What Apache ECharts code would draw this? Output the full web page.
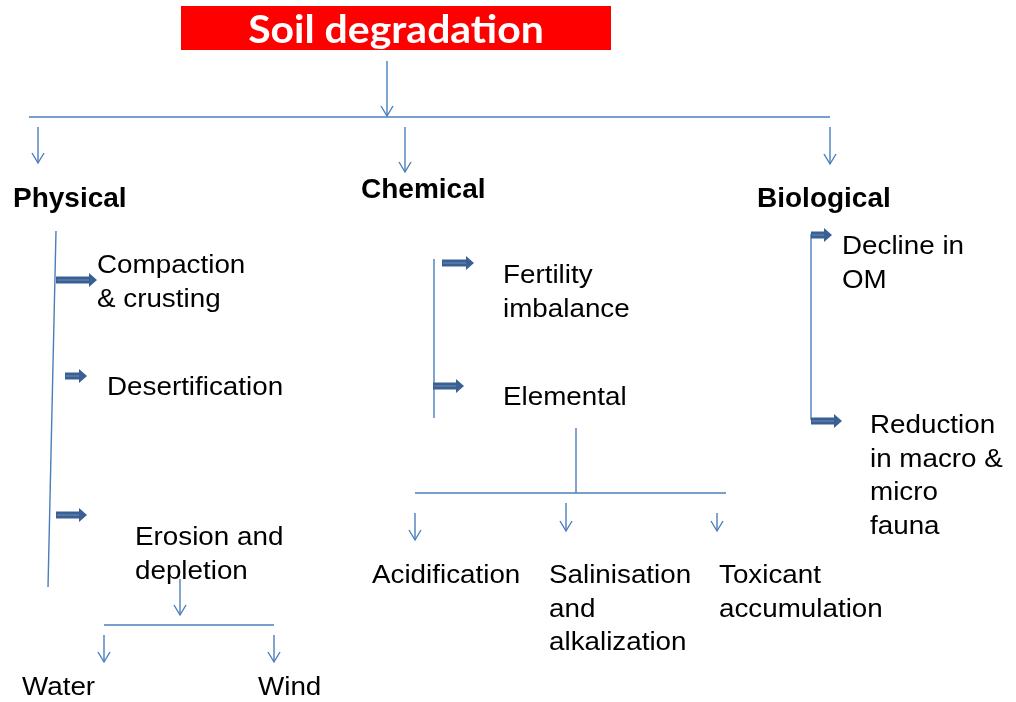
<!DOCTYPE html>
<html>
<head>
<meta charset="utf-8">
<script src="https://cdn.jsdelivr.net/npm/echarts@6/dist/echarts.min.js"></script>
<style>
  html, body { margin: 0; padding: 0; background: #fff; }
  #main { width: 1016px; height: 702px; }
</style>
</head>
<body>
<div id="main"></div>
<script>
// diagram nodes live on a hidden 1016 x 702 value grid (y runs downward)
const titleText = 'Soil degradation'
const titleBox = [181, 6, 611, 50]          // x0, y0, x1, y1
const titleAnchor = [396, 43]               // centre x, baseline y

// [label, x, first baseline]
const headings = [
  ['Physical', 13, 207],
  ['Chemical', 361, 198],
  ['Biological', 757, 207]
]
const items = [
  ['Compaction\n& crusting', 97, 273],
  ['Desertification', 107, 395],
  ['Erosion and\ndepletion', 135, 545],
  ['Water', 22, 695],
  ['Wind', 258, 695],
  ['Fertility\nimbalance', 503, 283],
  ['Elemental', 503, 405],
  ['Acidification', 372, 583],
  ['Salinisation\nand\nalkalization', 549, 583],
  ['Toxicant\naccumulation', 719, 583],
  ['Decline in\nOM', 842, 254],
  ['Reduction\nin macro &\nmicro\nfauna', 870, 433]
]

// plain connectors [x1, y1, x2, y2]
const connectors = [
  [29, 117, 830, 117],
  [56, 231, 48, 587],
  [104, 625, 274, 625],
  [434, 259, 434, 418],
  [576, 428, 576, 493],
  [415, 493, 726, 493],
  [811, 234, 811, 420]
]

// thin down arrows [x, yStart, yEnd]
const downArrows = [
  [387, 61, 116],
  [38, 127, 163],
  [405, 127, 172],
  [830, 127, 164],
  [180, 579, 615],
  [104, 635, 662],
  [274, 635, 662],
  [415, 513, 540],
  [566, 503, 531],
  [717, 513, 531]
]

// block arrows [xStart, xEnd, y]
const blockArrows = [
  [56, 97, 280],
  [65, 87, 376],
  [56, 87, 515],
  [442, 474, 263],
  [433, 464, 386],
  [811, 832, 235],
  [811, 842, 421]
]

const LINE = '#4A7EBB'
const BLOCK = '#3A5F92'

function textSeries (rows, fontSize, weight, scaleX, lineH) {
  return {
    type: 'custom',
    silent: true,
    data: rows.map(r => [r[1], r[2]]),
    renderItem: (params, api) => {
      const p = api.coord([api.value(0), api.value(1)])
      return {
        type: 'text',
        x: p[0],
        y: p[1] - lineH / 2 - fontSize * 0.35 + 2,
        scaleX: scaleX,
        style: {
          text: rows[params.dataIndex][0],
          fontFamily: 'Liberation Sans, Arial, sans-serif',
          fontSize: fontSize,
          fontWeight: weight,
          lineHeight: lineH,
          fill: '#000',
          align: 'left',
          verticalAlign: 'top'
        }
      }
    }
  }
}

const option = {
  animation: false,
  grid: { left: 0, right: 0, top: 0, bottom: 0 },
  xAxis: { type: 'value', min: 0, max: 1016, show: false },
  yAxis: { type: 'value', min: 0, max: 702, inverse: true, show: false },
  series: [
    {
      // red title box + caption
      type: 'custom',
      silent: true,
      data: [titleBox],
      renderItem: (params, api) => {
        const a = api.coord([api.value(0), api.value(1)])
        const b = api.coord([api.value(2), api.value(3)])
        const t = api.coord(titleAnchor)
        return {
          type: 'group',
          children: [
            { type: 'rect', shape: { x: a[0], y: a[1], width: b[0] - a[0], height: b[1] - a[1] }, style: { fill: '#FF0000' } },
            {
              type: 'text', x: t[0], y: t[1] - 39 * 0.36 + 1.5, scaleX: 1.05,
              style: {
                text: titleText, fontFamily: 'Lato, sans-serif', fontWeight: 'bold', fontSize: 39,
                fill: '#fff', align: 'center', verticalAlign: 'middle'
              }
            }
          ]
        }
      }
    },
    {
      type: 'custom',
      silent: true,
      data: connectors,
      renderItem: (params, api) => {
        const a = api.coord([api.value(0), api.value(1)])
        const b = api.coord([api.value(2), api.value(3)])
        return { type: 'line', shape: { x1: a[0], y1: a[1], x2: b[0], y2: b[1] }, style: { stroke: LINE, lineWidth: 1.4 } }
      }
    },
    {
      type: 'custom',
      silent: true,
      data: downArrows,
      renderItem: (params, api) => {
        const a = api.coord([api.value(0), api.value(1)])
        const b = api.coord([api.value(0), api.value(2)])
        return {
          type: 'group',
          children: [
            { type: 'line', shape: { x1: a[0], y1: a[1], x2: b[0], y2: b[1] }, style: { stroke: LINE, lineWidth: 1.4 } },
            { type: 'polyline', shape: { points: [[b[0] - 6, b[1] - 10], [b[0], b[1]], [b[0] + 6, b[1] - 10]] }, style: { stroke: LINE, lineWidth: 1.4, fill: null } }
          ]
        }
      }
    },
    {
      type: 'custom',
      silent: true,
      data: blockArrows,
      renderItem: (params, api) => {
        const a = api.coord([api.value(0), api.value(2)])
        const b = api.coord([api.value(1), api.value(2)])
        const y = a[1]
        const hx = b[0] - 8
        return {
          type: 'group',
          children: [
            {
              type: 'polygon',
              shape: { points: [[a[0], y - 3.5], [hx, y - 3.5], [hx, y - 7], [b[0], y], [hx, y + 7], [hx, y + 3.5], [a[0], y + 3.5]] },
              style: { fill: BLOCK }
            },
            { type: 'line', shape: { x1: a[0] + 1, y1: y, x2: hx, y2: y }, style: { stroke: '#6A8DBE', lineWidth: 1 } }
          ]
        }
      }
    },
    textSeries(headings, 28, 'bold', 1.0, 34),
    textSeries(items, 25.5, 'normal', 1.09, 33.5)
  ]
}

const chart = echarts.init(document.getElementById('main'), null, { renderer: 'canvas' })
chart.setOption(option)
</script>
</body>
</html>
